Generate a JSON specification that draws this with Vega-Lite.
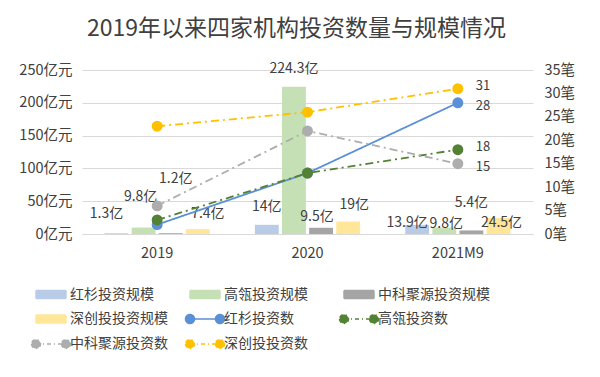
{
  "$schema": "https://vega.github.io/schema/vega-lite/v6.json",
  "width": 451,
  "height": 164,
  "autosize": {"type": "none"},
  "padding": {"left": 82, "top": 70, "right": 67, "bottom": 143},
  "background": "white",
  "config": {
    "font": "Noto Sans CJK SC",
    "view": {"stroke": null},
    "axis": {"labelColor": "#404040", "labelFontSize": 14.5, "title": null}
  },
  "title": {
    "text": "2019年以来四家机构投资数量与规模情况",
    "fontSize": 23,
    "fontWeight": "normal",
    "color": "#404040",
    "anchor": "middle",
    "dx": -11,
    "offset": 21
  },
  "datasets": {
    "bars": [
      {"year": "2019", "series": "红杉投资规模", "amount": 1.3},
      {"year": "2019", "series": "高瓴投资规模", "amount": 9.8},
      {"year": "2019", "series": "中科聚源投资规模", "amount": 1.2},
      {"year": "2019", "series": "深创投投资规模", "amount": 7.4},
      {"year": "2020", "series": "红杉投资规模", "amount": 14},
      {"year": "2020", "series": "高瓴投资规模", "amount": 224.3},
      {"year": "2020", "series": "中科聚源投资规模", "amount": 9.5},
      {"year": "2020", "series": "深创投投资规模", "amount": 19},
      {"year": "2021M9", "series": "红杉投资规模", "amount": 13.9},
      {"year": "2021M9", "series": "高瓴投资规模", "amount": 9.8},
      {"year": "2021M9", "series": "中科聚源投资规模", "amount": 5.4},
      {"year": "2021M9", "series": "深创投投资规模", "amount": 24.5}
    ],
    "counts": [
      {"year": "2019", "series": "红杉投资数", "count": 2},
      {"year": "2020", "series": "红杉投资数", "count": 13},
      {"year": "2021M9", "series": "红杉投资数", "count": 28},
      {"year": "2019", "series": "高瓴投资数", "count": 3},
      {"year": "2020", "series": "高瓴投资数", "count": 13},
      {"year": "2021M9", "series": "高瓴投资数", "count": 18},
      {"year": "2019", "series": "中科聚源投资数", "count": 6},
      {"year": "2020", "series": "中科聚源投资数", "count": 22},
      {"year": "2021M9", "series": "中科聚源投资数", "count": 15},
      {"year": "2019", "series": "深创投投资数", "count": 23},
      {"year": "2020", "series": "深创投投资数", "count": 26},
      {"year": "2021M9", "series": "深创投投资数", "count": 31}
    ]
  },
  "resolve": {"scale": {"y": "independent"}},
  "layer": [
    {
      "data": {"name": "bars"},
      "transform": [{"calculate": "datum.amount + '亿'", "as": "label"}],
      "encoding": {
        "x": {
          "field": "year", "type": "nominal", "sort": ["2019", "2020", "2021M9"],
          "scale": {"paddingInner": 0.3, "paddingOuter": 0.15},
          "axis": {"labelAngle": 0, "labelPadding": 12, "ticks": false, "domain": true, "domainColor": "#D9D9D9"}
        },
        "xOffset": {
          "field": "series", "type": "nominal",
          "sort": ["红杉投资规模", "高瓴投资规模", "中科聚源投资规模", "深创投投资规模"],
          "scale": {"paddingInner": 0.12}
        },
        "y": {
          "field": "amount", "type": "quantitative",
          "scale": {"domain": [0, 250]},
          "axis": {
            "values": [0, 50, 100, 150, 200, 250],
            "labelExpr": "datum.value + '亿元'",
            "grid": true, "gridColor": "#D9D9D9", "domain": false, "ticks": false, "labelPadding": 10
          }
        }
      },
      "layer": [
        {
          "mark": {"type": "bar"},
          "encoding": {
            "color": {
              "field": "series", "type": "nominal",
              "scale": {
                "domain": ["红杉投资规模", "高瓴投资规模", "中科聚源投资规模", "深创投投资规模", "红杉投资数", "高瓴投资数", "中科聚源投资数", "深创投投资数"],
                "range": ["#B8CCE8", "#C5E0B4", "#A5A5A5", "#FFE699", "#5B8FD6", "#548235", "#ADADAD", "#FFC000"]
              },
              "legend": {
                "title": null,
                "orient": "none",
                "legendX": -50,
                "legendY": 217,
                "columns": 3,
                "direction": "horizontal",
                "gridAlign": "all",
                "columnPadding": 0,
                "rowPadding": 9,
                "symbolSize": 100,
                "symbolOffset": 12,
                "labelOffset": 12,
                "labelFontSize": 14,
                "labelColor": "#404040",
                "labelLimit": 200,
                "encode": {
                  "symbols": {
                    "update": {
                      "shape": {"signal": "test(/规模/, datum.value) ? 'M-3,-0.8H3V0.8H-3Z' : 'M-3,0H3M-3.9,0A0.9,0.9 0 1,0 -2.1,0A0.9,0.9 0 1,0 -3.9,0ZM2.1,0A0.9,0.9 0 1,0 3.9,0A0.9,0.9 0 1,0 2.1,0Z'"},
                      "fill": {"signal": "scale('color', datum.value)"},
                      "stroke": {"signal": "test(/规模/, datum.value) ? 'transparent' : scale('color', datum.value)"},
                      "strokeWidth": {"value": 1.5},
                      "strokeDash": {"signal": "(datum.value == '红杉投资数' || test(/规模/, datum.value)) ? [1, 0] : [4, 3, 1, 3]"},
                      "opacity": {"value": 1}
                    }
                  }
                }
              }
            }
          }
        },
        {
          "transform": [{"filter": "(datum.year == '2019' && datum.series == '红杉投资规模')"}],
          "mark": {"type": "text", "fontSize": 14, "color": "#404040", "dy": -19, "dx": -10},
          "encoding": {"text": {"field": "label"}}
        },
        {
          "transform": [{"filter": "(datum.year == '2019' && datum.series == '高瓴投资规模')"}],
          "mark": {"type": "text", "fontSize": 14, "color": "#404040", "dy": -31, "dx": -3},
          "encoding": {"text": {"field": "label"}}
        },
        {
          "transform": [{"filter": "(datum.year == '2019' && datum.series == '中科聚源投资规模')"}],
          "mark": {"type": "text", "fontSize": 14, "color": "#404040", "dy": -54, "dx": 5},
          "encoding": {"text": {"field": "label"}}
        },
        {
          "transform": [{"filter": "(datum.year == '2019' && datum.series == '深创投投资规模')"}],
          "mark": {"type": "text", "fontSize": 14, "color": "#404040", "dy": -15, "dx": 10},
          "encoding": {"text": {"field": "label"}}
        },
        {
          "transform": [{"filter": "datum.year == '2020' && (datum.series == '红杉投资规模' || datum.series == '高瓴投资规模')"}],
          "mark": {"type": "text", "fontSize": 14, "color": "#404040", "dy": -18},
          "encoding": {"text": {"field": "label"}}
        },
        {
          "transform": [{"filter": "datum.year == '2020' && datum.series == '中科聚源投资规模'"}],
          "mark": {"type": "text", "fontSize": 14, "color": "#404040", "dy": -11, "dx": -4},
          "encoding": {"text": {"field": "label"}}
        },
        {
          "transform": [{"filter": "datum.year == '2020' && datum.series == '深创投投资规模'"}],
          "mark": {"type": "text", "fontSize": 14, "color": "#404040", "dy": -17, "dx": 6},
          "encoding": {"text": {"field": "label"}}
        },
        {
          "transform": [{"filter": "datum.year == '2021M9' && datum.series == '红杉投资规模'"}],
          "mark": {"type": "text", "fontSize": 14, "color": "#404040", "dy": -2, "dx": -10},
          "encoding": {"text": {"field": "label"}}
        },
        {
          "transform": [{"filter": "datum.year == '2021M9' && datum.series == '高瓴投资规模'"}],
          "mark": {"type": "text", "fontSize": 14, "color": "#404040", "dy": -4, "dx": 2},
          "encoding": {"text": {"field": "label"}}
        },
        {
          "transform": [{"filter": "datum.year == '2021M9' && datum.series == '深创投投资规模'"}],
          "mark": {"type": "text", "fontSize": 14, "color": "#404040", "dy": 5, "dx": 3},
          "encoding": {"text": {"field": "label"}}
        },
        {
          "transform": [{"filter": "datum.year == '2021M9' && datum.series == '中科聚源投资规模'"}],
          "mark": {"type": "text", "fontSize": 14, "color": "#404040", "dy": -27},
          "encoding": {"text": {"field": "label"}}
        }
      ]
    },
    {
      "data": {"name": "counts"},
      "encoding": {
        "x": {"field": "year", "type": "nominal", "sort": ["2019", "2020", "2021M9"]},
        "y": {
          "field": "count", "type": "quantitative",
          "scale": {"domain": [0, 35]},
          "axis": {
            "orient": "right",
            "values": [0, 5, 10, 15, 20, 25, 30, 35],
            "labelExpr": "datum.value + '笔'",
            "grid": false, "domain": false, "ticks": false, "labelPadding": 11
          }
        },
        "color": {"field": "series", "type": "nominal"}
      },
      "layer": [
        {
          "mark": {"type": "line", "strokeWidth": 1.8},
          "encoding": {
            "strokeDash": {
              "field": "series", "type": "nominal", "legend": null,
              "scale": {
                "domain": ["红杉投资数", "高瓴投资数", "中科聚源投资数", "深创投投资数"],
                "range": [[1, 0], [8, 4, 2, 4], [8, 4, 2, 4], [8, 4, 2, 4]]
              }
            }
          }
        },
        {
          "mark": {"type": "point", "filled": true, "size": 120, "opacity": 1}
        },
        {
          "transform": [{"filter": "datum.year == '2021M9' && (datum.series == '深创投投资数' || datum.series == '高瓴投资数')"}],
          "mark": {"type": "text", "fontSize": 13, "color": "#404040", "align": "left", "dx": 18, "dy": -3},
          "encoding": {"text": {"field": "count"}, "color": {"value": "#404040"}}
        },
        {
          "transform": [{"filter": "datum.year == '2021M9' && (datum.series == '红杉投资数' || datum.series == '中科聚源投资数')"}],
          "mark": {"type": "text", "fontSize": 13, "color": "#404040", "align": "left", "dx": 18, "dy": 3},
          "encoding": {"text": {"field": "count"}, "color": {"value": "#404040"}}
        }
      ]
    }
  ]
}
